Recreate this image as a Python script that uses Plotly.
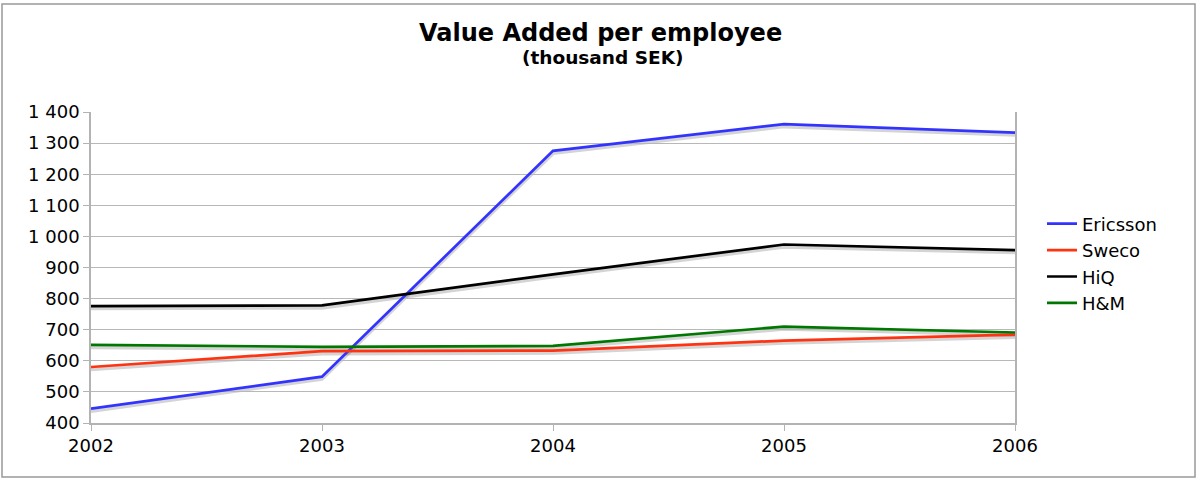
import plotly.graph_objects as go

years = [2002, 2003, 2004, 2005, 2006]
ericsson = [446, 549, 1275, 1361, 1334]
sweco = [580, 631, 633, 665, 684]
hiq = [776, 778, 878, 974, 956]
hm = [651, 645, 648, 710, 691]

series = [
    ("Ericsson", ericsson, "#3333ff"),
    ("Sweco", sweco, "#ff3311"),
    ("HiQ", hiq, "#000000"),
    ("H&M", hm, "#007700"),
]

W, H = 1197, 479
L, R, T, B = 91, 182, 112, 50
pw = W - L - R
ph = H - T - B
plot_bottom = 423          # pixel row of the x axis
shadow = 2.5               # shadow offset in pixels
vis_lo = (H - B - plot_bottom) / ph
sh = shadow / ph


def px_x(p):
    return (p - L) / pw


def px_y(p):
    return (H - p - B) / ph


fig = go.Figure()
# shadows: same data on a copy of the axes lowered by a couple of pixels
for name, vals, col in series:
    fig.add_trace(go.Scatter(x=years, y=vals, mode="lines", xaxis="x", yaxis="y",
                             line=dict(color="rgba(0,0,0,0.17)", width=3.5),
                             showlegend=False, hoverinfo="skip"))
for name, vals, col in series:
    fig.add_trace(go.Scatter(x=years, y=vals, mode="lines", name=name,
                             xaxis="x2", yaxis="y2",
                             line=dict(color=col, width=2.7)))

font = "DejaVu Sans, Verdana, sans-serif"
fig.update_layout(
    width=W, height=H,
    margin=dict(l=L, r=R, t=T, b=B),
    paper_bgcolor="white", plot_bgcolor="rgba(0,0,0,0)",
    separators=", ",
    font=dict(family=font, size=18, color="#000"),
    xaxis=dict(range=[2002, 2006], visible=False, domain=[0, 1], anchor="y"),
    yaxis=dict(range=[400, 1400], visible=False, domain=[vis_lo - sh, 1 - sh], anchor="x"),
    xaxis2=dict(range=[2002, 2006], tickvals=years, ticktext=[str(y) for y in years],
                showgrid=False, showline=True, linecolor="#b3b3b3", linewidth=1.5,
                ticks="outside", ticklen=6, tickcolor="#b3b3b3", zeroline=False,
                tickfont=dict(size=18), domain=[0, 1], anchor="y2"),
    yaxis2=dict(range=[400, 1400], dtick=100, tickformat=",", showgrid=True,
                gridcolor="#b8b8b8", gridwidth=1, showline=True, mirror=True,
                linecolor="#b3b3b3", linewidth=1.5, ticks="outside", ticklen=6,
                tickcolor="#b3b3b3", zeroline=False, tickfont=dict(size=18),
                domain=[vis_lo, 1], anchor="x2"),
    legend=dict(x=px_x(1042), xanchor="left", y=px_y(263.5), yanchor="middle",
                font=dict(size=18), tracegroupgap=0, itemwidth=30,
                bgcolor="rgba(0,0,0,0)"),
    showlegend=True,
)
fig.add_annotation(text="<b>Value Added per employee</b>", xref="paper", yref="paper",
                   x=px_x(600), y=px_y(33), xanchor="center", yanchor="middle",
                   showarrow=False, font=dict(size=24, family=font))
fig.add_annotation(text="<b>(thousand SEK)</b>", xref="paper", yref="paper",
                   x=px_x(602), y=px_y(58), xanchor="center", yanchor="middle",
                   showarrow=False, font=dict(size=18.5, family=font))
fig.add_shape(type="rect", xref="paper", yref="paper",
              x0=px_x(2), x1=px_x(1195), y0=px_y(477), y1=px_y(4),
              line=dict(color="#999999", width=1.5), layer="below")
fig.write_html("out.html", config={"displayModeBar": False},
               post_script="document.body.style.margin='0';")
